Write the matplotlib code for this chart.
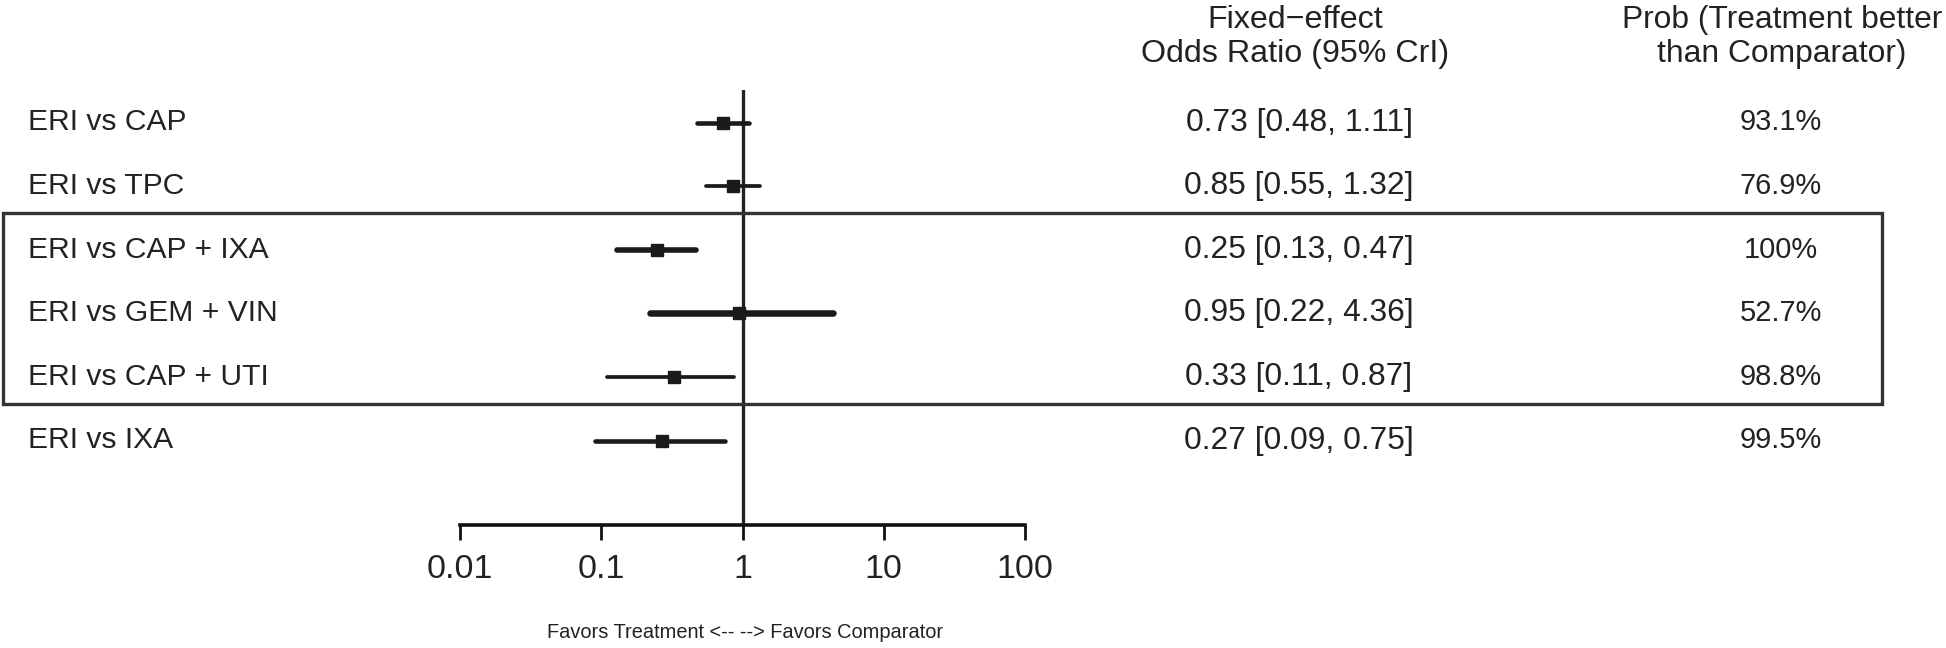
import matplotlib
matplotlib.use("Agg")
import matplotlib.pyplot as plt
import matplotlib.transforms as mtransforms
from matplotlib.patches import Rectangle
from matplotlib import font_manager

# ---------------- data ----------------
comparisons = ["ERI vs CAP", "ERI vs TPC", "ERI vs CAP + IXA",
               "ERI vs GEM + VIN", "ERI vs CAP + UTI", "ERI vs IXA"]
odds_ratio = [0.73, 0.85, 0.25, 0.95, 0.33, 0.27]
ci_low = [0.48, 0.55, 0.13, 0.22, 0.11, 0.09]
ci_high = [1.11, 1.32, 0.47, 4.36, 0.87, 0.75]
prob_better = ["93.1%", "76.9%", "100%", "52.7%", "98.8%", "99.5%"]
x_ticks = [0.01, 0.1, 1, 10, 100]
x_tick_labels = ["0.01", "0.1", "1", "10", "100"]
header_or = ["Fixed\u2212effect", "Odds Ratio (95% CrI)"]
header_prob = ["Prob (Treatment better", "than Comparator)"]
footer = "Favors Treatment <-- --> Favors Comparator"
boxed_rows = [2, 3, 4]

# styles
line_widths = [3.3, 2.7, 4.0, 4.7, 2.7, 3.3]

names = {f.name for f in font_manager.fontManager.ttflist}
if "Liberation Sans Narrow" in names:
    FAM = ["Liberation Sans Narrow", "DejaVu Sans"]
    WS = 0.82
else:
    FAM = ["Liberation Sans", "DejaVu Sans"]
    WS = 1.0
plt.rcParams["font.family"] = FAM


def fs(px):
    return px / WS * 72 / 100


W, H = 1946, 648
fig = plt.figure(figsize=(W / 100, H / 100), dpi=100)

# axes: x 460..1025 px, y 90..525 px
x0, x1 = 460, 1025
ytop, ybot = 90, 525
ax = fig.add_axes([x0 / W, (H - ybot) / H, (x1 - x0) / W, (ybot - ytop) / H])
ax.set_xscale("log")
ax.set_xlim(0.01, 100)
row_px0, row_step = 122.5, 63.6
ax.set_ylim((ybot - row_px0) / row_step, (ytop - row_px0) / row_step)

dark = "#1a1a1a"
ax.axvline(1, color="#222222", lw=2.4, zorder=1)
for i in range(len(comparisons)):
    ax.plot([ci_low[i], ci_high[i]], [i, i], color=dark, lw=line_widths[i],
            solid_capstyle="round", zorder=2)
    ax.plot([odds_ratio[i]], [i], marker="s", ms=8.6, color=dark,
            mec=dark, zorder=3)

for s in ["top", "right", "left"]:
    ax.spines[s].set_visible(False)
ax.spines["bottom"].set_linewidth(2.6)
ax.spines["bottom"].set_color("#111111")
ax.set_yticks([])
ax.set_xticks(x_ticks)
ax.set_xticklabels(x_tick_labels)
ax.minorticks_off()
ax.tick_params(axis="x", length=11, width=2.0, color="#111111",
               labelsize=fs(34), pad=10, labelcolor="#222222")
ax.patch.set_visible(False)

# text columns
trans = mtransforms.blended_transform_factory(fig.transFigure, ax.transData)
for i, lab in enumerate(comparisons):
    fig.text(28 / W, i, lab, transform=trans, ha="left", va="center",
             fontsize=fs(30), color="#222222")
    txt = f"{odds_ratio[i]:.2f} [{ci_low[i]:.2f}, {ci_high[i]:.2f}]"
    fig.text(1299 / W, i, txt, transform=trans, ha="center", va="center",
             fontsize=fs(31.8), color="#222222")
    fig.text(1781 / W, i, prob_better[i], transform=trans, ha="center",
             va="center", fontsize=fs(29), color="#222222")

# headers
for k, (a, b) in enumerate(zip(header_or, header_prob)):
    yy = 1 - (20 + 34 * k) / H
    fig.text(1295 / W, yy, a, ha="center", va="center", fontsize=fs(32.3),
             color="#222222")
    fig.text(1782 / W, yy, b, ha="center", va="center", fontsize=fs(31.8),
             color="#222222")

# box around grouped rows
ytop_box = boxed_rows[0] - 0.57
ybot_box = boxed_rows[-1] + 0.43
rect = Rectangle((3 / W, ytop_box), (1882 - 3) / W, ybot_box - ytop_box,
                 transform=trans, fill=False, ec="#333333", lw=2.4,
                 clip_on=False)
fig.add_artist(rect)

fig.text(745 / W, 1 - 633 / H, footer, ha="center", va="center",
         fontsize=fs(20), color="#222222")

fig.savefig("out.png", dpi=100)
